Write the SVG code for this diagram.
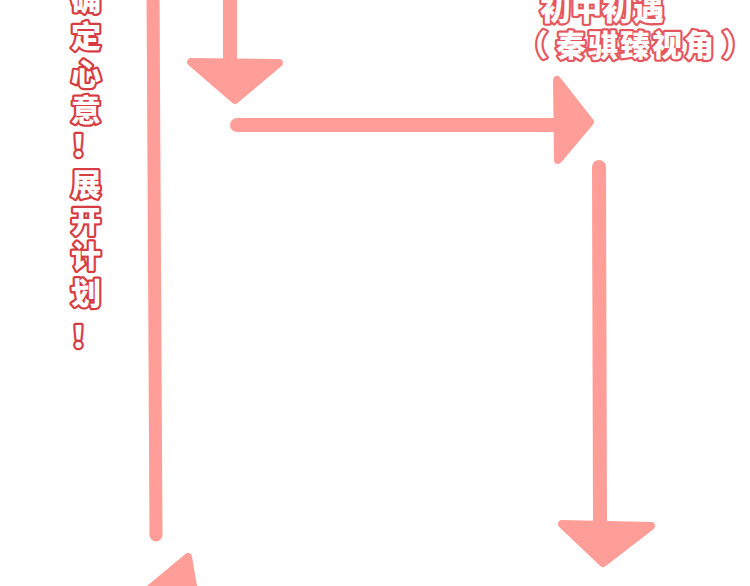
<svg xmlns="http://www.w3.org/2000/svg" width="750" height="586" viewBox="0 0 750 586">
<style>
.shaft{stroke:#ff9e99;stroke-linecap:round;fill:none}
.head{fill:#ff9e99;stroke:#ff9e99;stroke-width:8;stroke-linejoin:round}
.t{font-family:"Noto Sans CJK SC","Noto Sans",sans-serif;font-weight:900;fill:#ffffff;paint-order:stroke;stroke-linejoin:round;text-anchor:middle}
.tl{font-size:30px;stroke:#d73c42;stroke-width:4.5}
.tr{font-size:30px;stroke:#e5575e;stroke-width:4.5}
</style>
<rect width="750" height="586" fill="#ffffff"/>
<g id="connectors">
<line class="shaft" x1="153" y1="-10" x2="156" y2="535" stroke-width="13"/>
<polygon class="head" points="188,557 146,592 194,592"/>
<line class="shaft" x1="230" y1="-10" x2="230" y2="65" stroke-width="14"/>
<polygon class="head" points="191,62 279,63 235,100"/>
<line class="shaft" x1="237" y1="125" x2="562" y2="125" stroke-width="14"/>
<polygon class="head" points="557,80 558,160 590,122"/>
<line class="shaft" x1="599" y1="167" x2="600" y2="525" stroke-width="14"/>
<polygon class="head" points="562,524 651,526 603,563"/>
</g>
<g id="label-left" class="t tl">
<text x="86" y="10">确</text>
<text x="86" y="47">定</text>
<text x="86" y="85">心</text>
<text x="86" y="121">意</text>
<text x="86" y="156">！</text>
<text x="86" y="195">展</text>
<text x="86" y="232">开</text>
<text x="86" y="267">计</text>
<text x="86" y="304">划</text>
<text x="86" y="347">！</text>
</g>
<g id="label-right" class="t tr">
<text x="602" y="20" font-size="31">初中初遇</text>
<text x="533" y="56">（</text>
<text x="636" y="56" letter-spacing="2">秦骐臻视角</text>
<text x="737" y="56">）</text>
</g>
</svg>
